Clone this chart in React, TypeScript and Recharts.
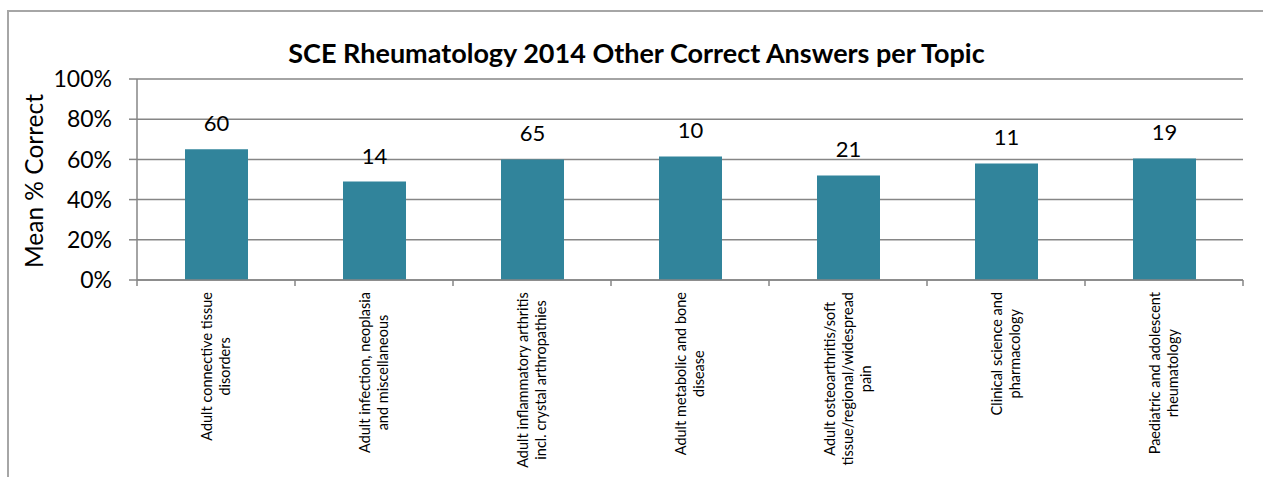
import React from 'react';
import { BarChart, Bar, XAxis, YAxis, CartesianGrid, LabelList } from 'recharts';

// SCE Rheumatology 2014 - other correct answers per topic

const topics: string[][] = [
  ['Adult connective tissue', 'disorders'],
  ['Adult infection, neoplasia', 'and miscellaneous'],
  ['Adult inflammatory arthritis', 'incl. crystal arthropathies'],
  ['Adult metabolic and bone', 'disease'],
  ['Adult osteoarthritis/soft', 'tissue/regional/widespread', 'pain'],
  ['Clinical science and', 'pharmacology'],
  ['Paediatric and adolescent', 'rheumatology'],
];
const meanCorrect = [0.65, 0.49, 0.6, 0.615, 0.52, 0.58, 0.605];
const questionCounts = [60, 14, 65, 10, 21, 11, 19];
const yTicks = [0, 0.2, 0.4, 0.6, 0.8, 1];

const FONT = 'Lato, "Open Sans", sans-serif';
const BAR_COLOR = '#31849B';
const GRID = '#868686';
const FRAME = '#a6a6a6';

const data = topics.map((lines, i) => ({
  name: lines.join(' '),
  lines,
  value: meanCorrect[i],
  count: questionCounts[i],
}));

let ctx: CanvasRenderingContext2D | null = null;
function measure(text: string, font: string) {
  if (!ctx) ctx = document.createElement('canvas').getContext('2d');
  if (!ctx) return text.length * 6;
  ctx.font = font;
  return ctx.measureText(text).width;
}

const TICK_FS = 14.5;
const LINE_H = 18;

// rotated multi-line category label plus boundary tick marks
function TopicTick(props: any) {
  const { x, y, payload, index } = props;
  const lines: string[] = data[index]?.lines ?? [String(payload.value)];
  const half = payload.offset ?? 79;
  const maxW = Math.max(...lines.map((l) => measure(l, `${TICK_FS}px Lato`)));
  const top = y + 4;
  const cy = top + maxW / 2;
  const n = lines.length;
  const axisY = y - 8;
  return (
    <g>
      <line x1={x - half} x2={x - half} y1={axisY} y2={axisY + 6} stroke={GRID} strokeWidth={1.5} />
      {index === data.length - 1 && (
        <line x1={x + half} x2={x + half} y1={axisY} y2={axisY + 6} stroke={GRID} strokeWidth={1.5} />
      )}
      {lines.map((l, i) => {
        const lx = x + (i - (n - 1) / 2) * LINE_H + 5;
        return (
          <text
            key={i}
            x={lx}
            y={cy}
            transform={`rotate(-90 ${lx} ${cy})`}
            textAnchor="middle"
            fontFamily={FONT}
            fontSize={TICK_FS}
            fill="#000"
          >
            {l}
          </text>
        );
      })}
    </g>
  );
}

export default function App() {
  return (
    <div
      style={{
        position: 'fixed',
        left: 0,
        top: 0,
        width: 1263,
        height: 477,
        overflow: 'hidden',
        background: '#fff',
        fontFamily: FONT,
      }}
    >
      <div style={{ position: 'absolute', left: 7, top: 10, width: 2, height: 467, background: FRAME }} />
      <div style={{ position: 'absolute', left: 7, top: 10, width: 1256, height: 2, background: FRAME }} />
      <div
        style={{
          position: 'absolute',
          left: 0,
          width: 1273,
          top: 34,
          textAlign: 'center',
          fontWeight: 700,
          fontSize: 27,
          lineHeight: '38px',
          color: '#000',
        }}
      >
        SCE Rheumatology 2014 Other Correct Answers per Topic
      </div>
      <div
        style={{
          position: 'absolute',
          left: 33,
          top: 181,
          transform: 'translate(-50%, -50%) rotate(-90deg)',
          whiteSpace: 'nowrap',
          fontSize: 24.5,
          color: '#000',
        }}
      >
        Mean % Correct
      </div>
      <BarChart
        width={1263}
        height={477}
        data={data}
        margin={{ top: 79, right: 20, bottom: 0, left: 77 }}
        style={{ position: 'absolute', left: 0, top: 0 }}
      >
        <CartesianGrid vertical={false} stroke={GRID} strokeWidth={1.5} />
        <XAxis
          dataKey="name"
          interval={0}
          height={197}
          tickLine={false}
          axisLine={{ stroke: GRID, strokeWidth: 1.5 }}
          tick={<TopicTick />}
        />
        <YAxis
          domain={[0, 1]}
          ticks={yTicks}
          width={60}
          tickSize={8}
          tickMargin={17}
          tickFormatter={(v: number) => `${Math.round(v * 100)}%`}
          tick={{ fontFamily: FONT, fontSize: 23, fill: '#000' }}
          tickLine={{ stroke: GRID, strokeWidth: 1.5 }}
          axisLine={{ stroke: GRID, strokeWidth: 1.5 }}
        />
        <Bar dataKey="value" fill={BAR_COLOR} barSize={63} isAnimationActive={false}>
          <LabelList
            dataKey="count"
            position="top"
            offset={18}
            style={{ fontFamily: FONT, fontSize: 22, fill: '#000' }}
          />
        </Bar>
      </BarChart>
    </div>
  );
}
